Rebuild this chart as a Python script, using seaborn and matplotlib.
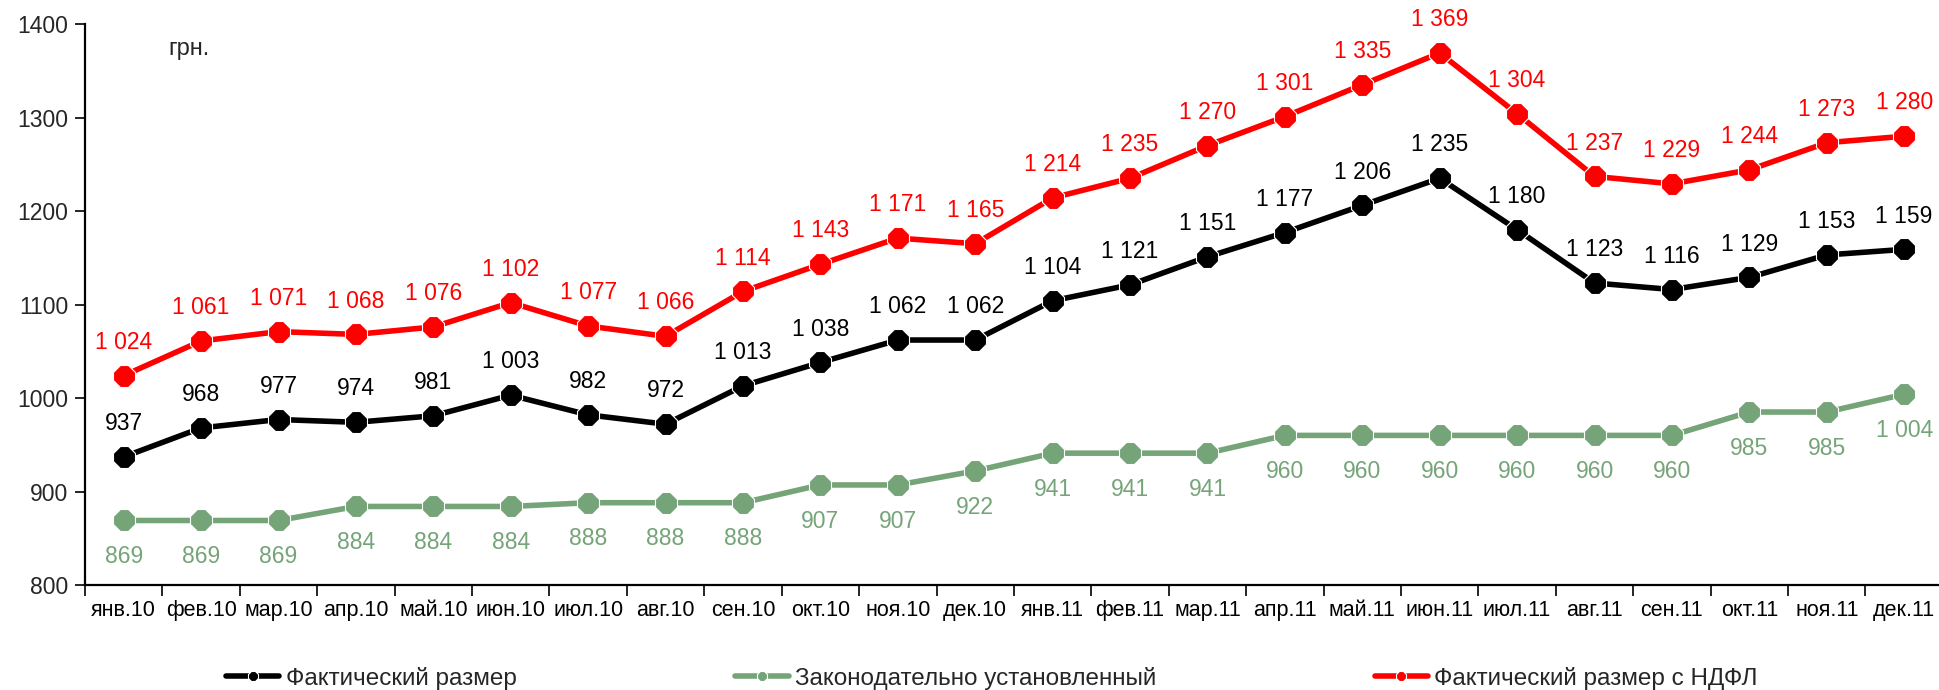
import matplotlib
matplotlib.use("Agg")
import matplotlib.pyplot as plt
import seaborn as sns
import pandas as pd
import numpy as np

months = ["янв.10", "фев.10", "мар.10", "апр.10", "май.10", "июн.10", "июл.10", "авг.10",
          "сен.10", "окт.10", "ноя.10", "дек.10", "янв.11", "фев.11", "мар.11", "апр.11",
          "май.11", "июн.11", "июл.11", "авг.11", "сен.11", "окт.11", "ноя.11", "дек.11"]
actual = [937, 968, 977, 974, 981, 1003, 982, 972, 1013, 1038, 1062, 1062,
          1104, 1121, 1151, 1177, 1206, 1235, 1180, 1123, 1116, 1129, 1153, 1159]
legal = [869, 869, 869, 884, 884, 884, 888, 888, 888, 907, 907, 922,
         941, 941, 941, 960, 960, 960, 960, 960, 960, 985, 985, 1004]
with_tax = [1024, 1061, 1071, 1068, 1076, 1102, 1077, 1066, 1114, 1143, 1171, 1165,
            1214, 1235, 1270, 1301, 1335, 1369, 1304, 1237, 1229, 1244, 1273, 1280]
series_names = ["Фактический размер", "Законодательно установленный", "Фактический размер с НДФЛ"]
colors = ["#000000", "#75A478", "#FF0000"]
yticks = [800, 900, 1000, 1100, 1200, 1300, 1400]

sns.set_theme(style="white")
plt.rcParams['font.family'] = ['Liberation Sans', 'DejaVu Sans']

fig = plt.figure(figsize=(19.39, 6.90), dpi=100)
ax = fig.add_axes([85/1939, 1 - 585/690, 1 - 85/1939 + 0.002, (585 - 24)/690])

pos = np.arange(len(months))
frames = []
for name, vals in zip(series_names, [actual, legal, with_tax]):
    frames.append(pd.DataFrame({"pos": pos, "value": vals, "series": name}))
df = pd.concat(frames, ignore_index=True)

sns.lineplot(data=df, x="pos", y="value", hue="series", hue_order=series_names,
             palette=colors, marker="8", markersize=16.5, markeredgecolor="white",
             markeredgewidth=0.8, linewidth=4.0, ax=ax, legend=True)

fmt = lambda v: f"{v:,}".replace(",", " ")
for vals, col, off in zip([actual, legal, with_tax], colors, [24, -26, 24]):
    for i, v in enumerate(vals):
        ax.annotate(fmt(v), (pos[i], v), xytext=(0, off), textcoords="offset points",
                    ha="center", va="center", fontsize=16.5, color=col)

ax.set_xlim(-0.5, len(months) - 0.5)
ax.set_ylim(800, 1400)
ax.set_yticks(yticks)
ax.set_yticklabels([str(t) for t in yticks], fontsize=16.5)
ax.set_xticks(pos)
ax.set_xticklabels(months, fontsize=15.5)
ax.set_xticks(np.arange(-0.5, len(months), 1.0), minor=True)
ax.tick_params(axis="x", which="major", length=0, pad=11, colors="black")
ax.tick_params(axis="x", which="minor", length=8, width=1.2, direction="out", bottom=True, color="black")
ax.tick_params(axis="y", which="major", length=7, width=1.2, direction="out", left=True, color="black", pad=5)
ax.set_xlabel("")
ax.set_ylabel("")
for s in ["top", "right"]:
    ax.spines[s].set_visible(False)
for s in ["left", "bottom"]:
    ax.spines[s].set_color("black")
    ax.spines[s].set_linewidth(1.6)
ax.grid(False)

ax.text(0.045, 0.955, "грн.", transform=ax.transAxes, fontsize=17, ha="left", va="center")

handles, labels = ax.get_legend_handles_labels()
ax.legend_.remove()
fig.legend(handles, labels, loc="center left", bbox_to_anchor=(226/1939, 1 - 678/690),
           ncol=3, frameon=False, fontsize=17.5, handlelength=2.2, handletextpad=0.25,
           columnspacing=9.0, markerscale=0.5, borderpad=0, borderaxespad=0)

fig.savefig("out.png", dpi=100)
